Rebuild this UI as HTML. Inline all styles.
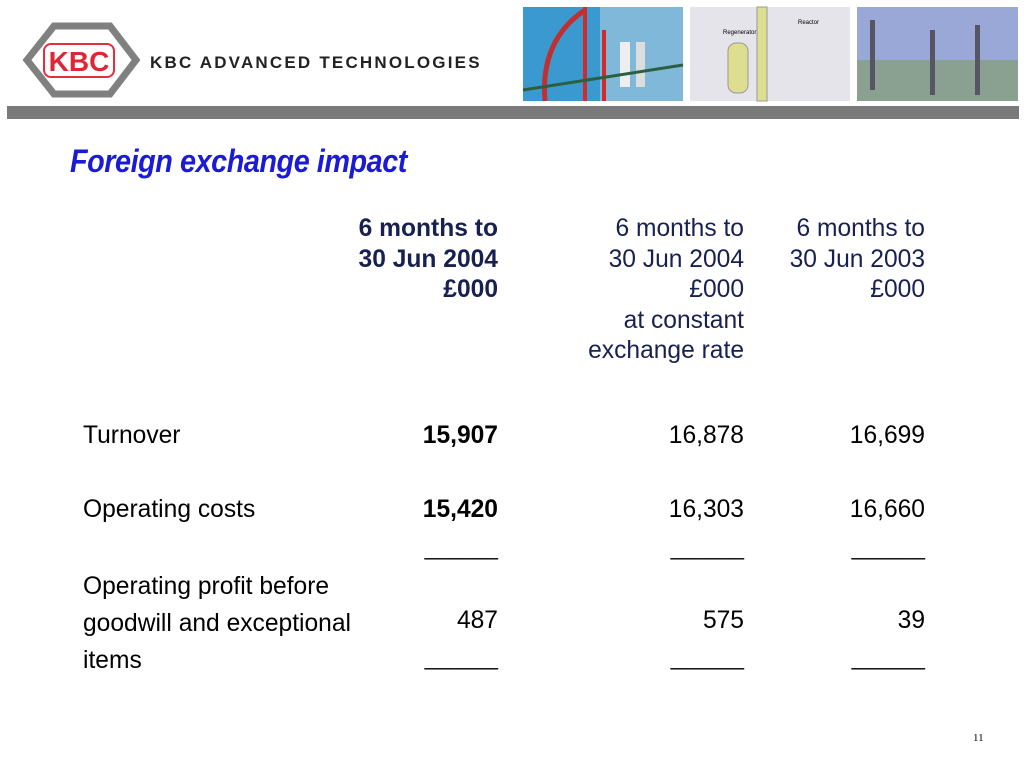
<!DOCTYPE html>
<html><head><meta charset="utf-8"><style>
body{margin:0;width:1024px;height:768px;background:#fff;position:relative;overflow:hidden;font-family:"Liberation Sans",Arial,sans-serif}
.a{position:absolute;white-space:nowrap}
.t{font-size:24.6px;color:#000;line-height:30.5px}
.r{text-align:right}
.b{font-weight:bold}
.h{color:#18204f}
</style></head><body>
<svg class="a" style="left:0;top:0" width="1024" height="125">
<polygon points="27,60 54,26 110,26 136,60 110,94 54,94" fill="none" stroke="#808080" stroke-width="7"/>
<rect x="44" y="44" width="70" height="33" rx="7" fill="#fff" stroke="#e03040" stroke-width="2"/>
<text x="79" y="71" text-anchor="middle" font-family="Liberation Sans" font-weight="bold" font-size="28" fill="#e02535">KBC</text>
<text x="150" y="68" font-family="Liberation Sans" font-weight="bold" font-size="17" letter-spacing="2.2" fill="#222">KBC ADVANCED TECHNOLOGIES</text>
<g>
<rect x="523" y="7" width="160" height="94" fill="#3a9ad0"/>
<rect x="600" y="7" width="83" height="94" fill="#7fb8d8"/>
<path d="M545 101 Q540 40 585 10" stroke="#c03030" stroke-width="5" fill="none"/>
<rect x="583" y="7" width="4" height="94" fill="#d02a2a"/>
<rect x="602" y="30" width="4" height="71" fill="#d02a2a"/>
<rect x="620" y="42" width="10" height="45" fill="#eee"/>
<rect x="636" y="42" width="9" height="45" fill="#ddd"/>
<path d="M523 90 L683 65" stroke="#2a6040" stroke-width="3"/>
</g>
<g>
<rect x="690" y="7" width="160" height="94" fill="#e4e4ea"/>
<rect x="728" y="43" width="20" height="50" rx="8" fill="#dede90" stroke="#999"/>
<rect x="757" y="7" width="10" height="94" fill="#dede90" stroke="#999"/>
<text x="723" y="34" font-size="6" font-family="Liberation Sans">Regenerator</text>
<text x="798" y="24" font-size="6" font-family="Liberation Sans">Reactor</text>
</g>
<g>
<rect x="857" y="7" width="161" height="94" fill="#9aa8d8"/>
<rect x="857" y="60" width="161" height="41" fill="#8aa090"/>
<rect x="870" y="20" width="5" height="70" fill="#556"/>
<rect x="930" y="30" width="5" height="65" fill="#556"/>
<rect x="975" y="25" width="5" height="70" fill="#556"/>
</g>
<rect x="7" y="106" width="1012" height="13" fill="#7a7a7a"/>
</svg>
<div class="a" style="left:70px;top:143px;font-size:32px;font-weight:bold;font-style:italic;color:#1a1ad8;transform:scaleX(0.9);transform-origin:left top;letter-spacing:-0.5px">Foreign exchange impact</div>

<div class="a t r b h" style="right:526px;top:214px">6 months to<br>30 Jun 2004<br>£000</div>
<div class="a t r h" style="right:280px;top:214px">6 months to<br>30 Jun 2004<br>£000<br>at constant<br>exchange rate</div>
<div class="a t r h" style="right:99px;top:214px">6 months to<br>30 Jun 2003<br>£000</div>

<div class="a t" style="left:83px;top:421px">Turnover</div>
<div class="a t r b" style="right:526px;top:421px">15,907</div>
<div class="a t r" style="right:280px;top:421px">16,878</div>
<div class="a t r" style="right:99px;top:421px">16,699</div>

<div class="a t" style="left:83px;top:495px">Operating costs</div>
<div class="a t r b" style="right:526px;top:495px">15,420</div>
<div class="a t r" style="right:280px;top:495px">16,303</div>
<div class="a t r" style="right:99px;top:495px">16,660</div>

<div class="a t r" style="right:526px;top:533px;font-size:22px">______</div>
<div class="a t r" style="right:280px;top:533px;font-size:22px">______</div>
<div class="a t r" style="right:99px;top:533px;font-size:22px">______</div>

<div class="a t" style="left:83px;top:568px;line-height:37px">Operating profit before<br>goodwill and exceptional<br>items</div>
<div class="a t r" style="right:526px;top:606px">487</div>
<div class="a t r" style="right:280px;top:606px">575</div>
<div class="a t r" style="right:99px;top:606px">39</div>

<div class="a t r" style="right:526px;top:643px;font-size:22px">______</div>
<div class="a t r" style="right:280px;top:643px;font-size:22px">______</div>
<div class="a t r" style="right:99px;top:643px;font-size:22px">______</div>

<div class="a" style="left:973px;top:732px;font-family:'Liberation Serif',serif;font-size:11px">11</div>
</body></html>
